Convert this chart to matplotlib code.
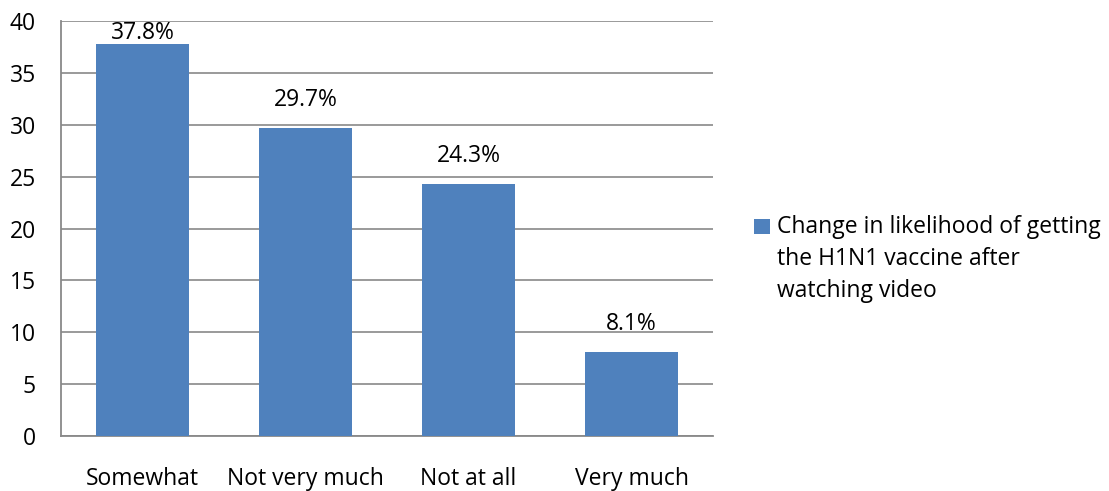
import numpy as np
import matplotlib.pyplot as plt
from matplotlib.patches import Rectangle

# survey responses
categories = ['Somewhat', 'Not very much', 'Not at all', 'Very much']
percent    = [37.8, 29.7, 24.3, 8.1]
yticks     = [0, 5, 10, 15, 20, 25, 30, 35, 40]
series_lbl = 'Change in likelihood of getting\nthe H1N1 vaccine after\nwatching video'

bar_color  = '#4f81bd'
grid_color = '#898989'
fsize      = 16.5

plt.rcParams['font.family'] = ['Open Sans', 'DejaVu Sans']

def main():
	fig = plt.figure(figsize=(11.09, 4.91), dpi=100)
	ax  = fig.add_axes([0.055, 0.112, 0.588, 0.845])

	x = np.arange(len(categories))
	ax.bar(x, percent, width=0.57, color=bar_color, zorder=3)

	ymax = yticks[-1]
	ax.set_xlim(-0.5, len(categories) - 0.5)
	ax.set_ylim(0, ymax)

	# value labels above each bar, kept inside the plot area
	for xi, v in zip(x, percent):
		yl = min(v + 2.7, ymax - 1.15)
		ax.text(xi, yl, '{:.1f}%'.format(v), ha='center', va='center',
			fontsize=fsize, color='black', zorder=4)

	ax.set_yticks(yticks)
	ax.set_xticks(x)
	ax.set_xticklabels(categories, fontsize=fsize)
	ax.tick_params(axis='y', labelsize=fsize, length=0, pad=18)
	ax.tick_params(axis='x', length=0, pad=22)

	ax.yaxis.grid(True, color=grid_color, linewidth=1.2, zorder=0)
	ax.set_axisbelow(True)
	for s in ['top', 'right']:
		ax.spines[s].set_visible(False)
	for s in ['left', 'bottom']:
		ax.spines[s].set_color(grid_color)
		ax.spines[s].set_linewidth(1.3)

	# legend: square key next to the first line of the series name
	fig.add_artist(Rectangle((754 / 1109, 1 - 234 / 491), 16 / 1109, 15 / 491,
		transform=fig.transFigure, facecolor=bar_color, edgecolor='none'))
	fig.text(777 / 1109, 1 - 215 / 491, series_lbl, ha='left', va='top',
		fontsize=fsize, linespacing=1.45)

	fig.savefig('out.png', dpi=100, facecolor='white')
	return 0

if __name__ == "__main__":
	main()
